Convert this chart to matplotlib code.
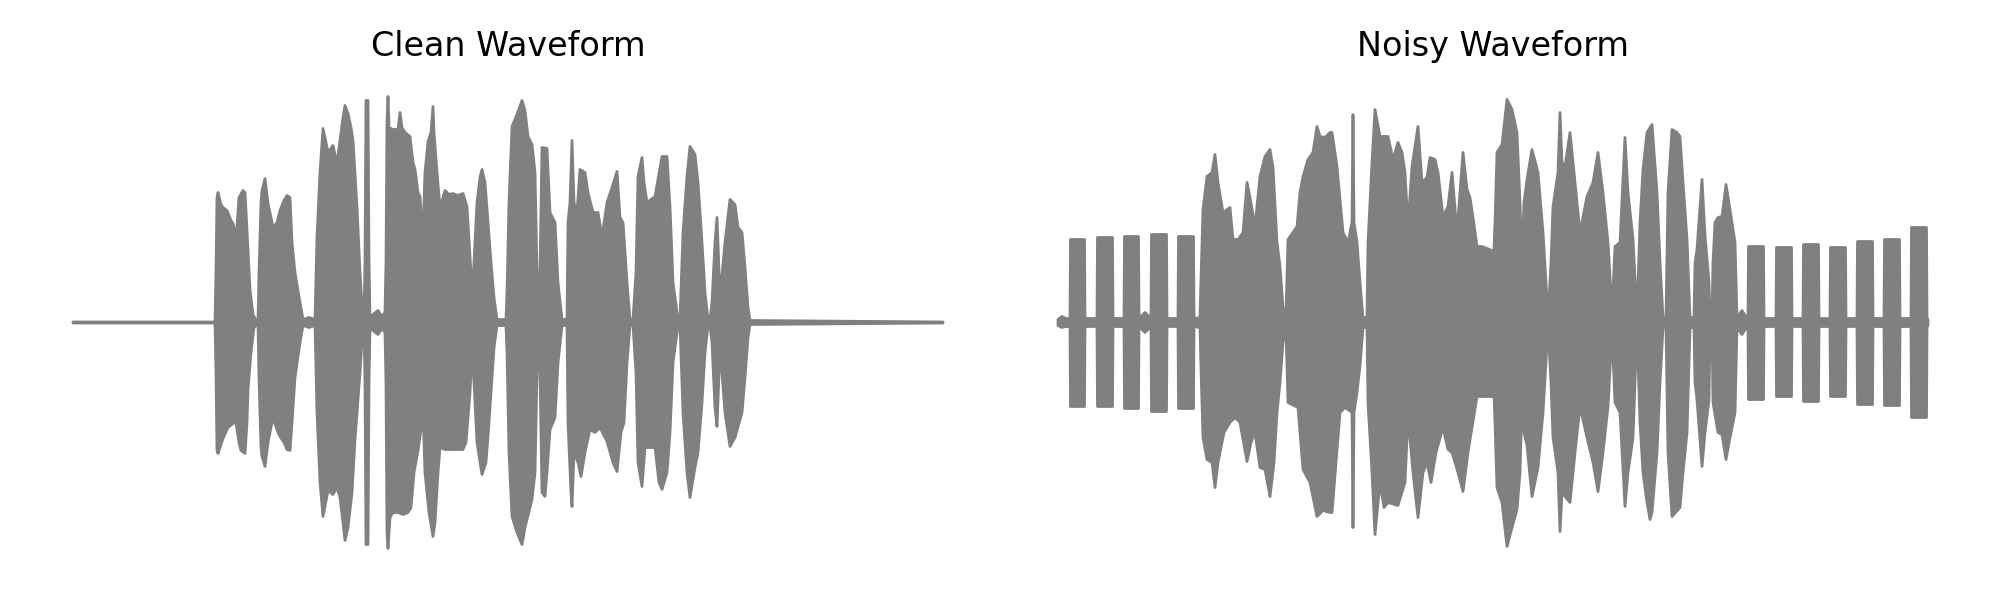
import numpy as np
import matplotlib.pyplot as plt

# peak envelope (frame index, level)
clean_top = [
    (0, 0.5), (142, 0.5), (143, 50), (144, 125), (145, 130), (148, 118), (150, 115), (154, 112), (158, 102),
    (160, 99), (162, 92), (164, 95), (166, 125), (170, 132), (172, 130), (174, 92), (177, 33), (180, 8), (183, 2),
    (185, 2), (186, 50), (188, 120), (189, 132), (192, 144), (195, 119), (198, 105), (200, 95), (204, 100),
    (207, 112), (211, 122), (214, 127), (217, 125), (219, 80), (222, 50), (227, 20), (230, 3),
    (236, 5), (242, 3), (244, 86), (247, 150), (250, 194), (253, 180), (255, 170), (260, 177), (264, 159),
    (267, 182), (270, 205), (272, 217), (275, 209), (278, 195), (280, 182), (284, 115), (287, 50), (290, 3),
    (291, 3), (292, 60), (293, 222), (295, 222), (296, 60), (297, 5), (300, 8), (305, 12), (309, 6), (312, 10),
    (313, 60), (314, 200), (315, 226), (316, 195), (320, 193), (325, 193), (327, 210), (329, 195), (332, 190),
    (337, 186), (340, 160), (342, 153), (345, 130), (347, 126), (349, 95), (350, 90), (352, 150), (355, 181),
    (358, 190), (360, 216), (361, 190), (364, 150), (367, 115), (370, 125), (372, 132), (376, 128), (380, 129),
    (385, 127), (390, 129), (394, 116), (397, 66), (399, 30), (401, 60), (404, 120), (407, 145), (409, 153),
    (412, 140), (415, 100), (418, 60), (421, 25), (424, 3),
    (433, 3), (434, 30), (436, 120), (439, 196), (444, 208), (449, 222), (452, 212), (455, 186), (459, 178),
    (462, 150), (464, 50), (467, 50), (469, 175), (474, 174), (477, 110), (482, 100), (485, 40), (489, 3),
    (494, 3), (495, 100), (497, 120), (499, 182), (501, 120), (504, 110), (507, 153), (512, 150), (515, 130),
    (520, 110), (525, 110), (529, 86), (534, 120), (539, 135), (544, 151), (547, 105), (550, 100), (554, 40), (557, 3),
    (560, 3), (563, 50), (565, 146), (569, 165), (571, 140), (574, 120), (582, 126), (589, 166), (594, 166),
    (597, 115), (600, 40), (605, 3),
    (607, 3), (610, 90), (614, 146), (617, 176), (622, 168), (625, 140), (629, 80), (632, 30), (635, 3),
    (637, 3), (639, 20), (642, 80), (644, 105), (647, 25), (652, 80), (657, 123), (662, 118), (665, 95),
    (669, 90), (672, 55), (675, 15), (677, 2), (870, 0.5)]

clean_bot = [
    (0, 0.5), (142, 0.5), (143, 50), (144, 128), (145, 131), (150, 116), (155, 105), (160, 101), (163, 100),
    (166, 120), (168, 128), (172, 131), (174, 100), (175, 67), (178, 30), (181, 5), (184, 2),
    (185, 2), (186, 55), (188, 125), (189, 134), (192, 144), (195, 120), (200, 95), (205, 110), (207, 114),
    (211, 120), (214, 127), (217, 128), (219, 100), (222, 55), (227, 20), (230, 3),
    (236, 5), (242, 3), (244, 90), (247, 160), (250, 194), (255, 168), (260, 172), (264, 165), (267, 175),
    (270, 200), (272, 218), (275, 205), (279, 170), (282, 117), (287, 50), (290, 3),
    (291, 3), (292, 60), (293, 222), (295, 222), (296, 60), (297, 5), (300, 8), (305, 12), (309, 6), (312, 10),
    (313, 60), (314, 210), (315, 226), (317, 195), (320, 190), (325, 190), (330, 192), (335, 190), (338, 185),
    (341, 150), (345, 128), (349, 100), (350, 90), (352, 150), (356, 190), (360, 214), (362, 200), (365, 150),
    (367, 125), (372, 127), (380, 127), (390, 127), (393, 120), (397, 70), (399, 30), (401, 60), (404, 120),
    (409, 152), (413, 140), (416, 100), (419, 55), (421, 25), (424, 3),
    (433, 3), (434, 30), (436, 130), (439, 194), (444, 210), (449, 222), (452, 205), (459, 177), (462, 150),
    (464, 50), (467, 50), (469, 170), (472, 174), (474, 150), (477, 107), (482, 95), (485, 40), (489, 3),
    (494, 3), (495, 100), (498, 170), (499, 184), (501, 130), (505, 140), (508, 154), (512, 130), (517, 107),
    (522, 110), (527, 105), (534, 119), (540, 140), (544, 149), (548, 110), (551, 100), (554, 40), (557, 3),
    (560, 3), (563, 50), (565, 140), (569, 164), (572, 125), (582, 125), (586, 160), (589, 167), (594, 150),
    (597, 110), (600, 40), (605, 3),
    (607, 3), (610, 90), (614, 150), (617, 175), (622, 145), (625, 130), (629, 80), (632, 30), (635, 3),
    (637, 3), (639, 20), (642, 85), (644, 104), (647, 25), (652, 90), (657, 124), (662, 115), (669, 90),
    (672, 55), (675, 15), (677, 2), (870, 0.5)]

noisy_top = [
    (0, 3), (4, 6), (8, 4), (87, 10),
    (142, 5), (143, 43), (145, 113), (149, 146), (154, 150), (157, 168), (160, 140), (165, 110), (172, 115),
    (175, 83), (180, 83), (185, 90), (189, 140), (192, 125), (197, 96), (202, 146), (207, 166), (212, 173),
    (215, 155), (219, 80), (222, 56), (225, 15), (228, 8),
    (230, 83), (235, 90), (239, 96), (242, 130), (245, 146), (250, 163), (255, 170), (259, 196), (262, 186),
    (267, 185), (272, 190), (274, 190), (279, 156), (285, 90), (290, 80), (294, 100), (295, 208), (296, 100),
    (299, 80), (302, 40), (305, 5),
    (309, 5), (310, 80), (314, 160), (317, 213), (322, 186), (325, 186), (330, 186), (335, 163), (340, 180),
    (344, 170), (347, 150), (350, 96), (354, 156), (360, 196), (364, 140), (369, 145), (372, 165), (377, 163),
    (380, 150), (385, 106), (390, 116), (394, 150), (399, 90), (405, 170), (409, 133), (412, 125), (415, 105),
    (419, 76), (424, 76), (429, 74), (434, 72), (435, 45),
    (437, 100), (439, 170), (444, 178), (449, 223), (454, 213), (459, 190), (462, 120), (464, 60), (466, 120),
    (469, 143), (474, 173), (480, 150), (485, 90), (490, 5),
    (493, 60), (495, 116), (500, 150), (502, 210), (504, 160), (507, 156), (512, 190), (517, 140), (522, 90),
    (529, 126), (535, 140), (540, 170), (545, 130), (550, 80), (554, 10),
    (557, 76), (562, 80), (567, 185), (570, 130), (575, 83), (579, 5),
    (582, 100), (585, 153), (589, 190), (594, 198), (599, 130), (602, 60), (605, 5),
    (608, 5), (610, 130), (614, 193), (619, 190), (622, 186), (625, 140), (629, 83), (632, 5),
    (636, 5), (637, 60), (639, 73), (644, 143), (647, 87), (651, 40), (652, 5),
    (654, 5), (655, 60), (657, 100), (660, 105), (664, 106), (668, 138), (672, 113), (677, 80), (679, 5),
    (684, 12), (689, 4), (870, 3)]

noisy_bot = [
    (0, 3), (4, 5), (8, 4), (87, 10),
    (142, 5), (143, 45), (145, 115), (149, 137), (154, 140), (157, 165), (160, 140), (166, 110), (172, 100),
    (177, 95), (182, 100), (189, 139), (193, 120), (197, 110), (202, 145), (207, 147), (212, 174), (216, 140),
    (219, 90), (222, 60), (225, 20), (228, 8),
    (230, 80), (240, 85), (245, 147), (252, 160), (259, 194), (265, 188), (272, 190), (274, 190), (278, 140),
    (282, 90), (287, 85), (294, 90), (295, 205), (296, 90), (299, 70), (302, 43), (305, 5),
    (309, 5), (310, 80), (314, 150), (317, 212), (322, 160), (326, 185), (330, 180), (340, 183), (347, 160),
    (350, 94), (355, 150), (360, 195), (365, 150), (369, 140), (373, 160), (378, 130), (385, 105), (390, 127),
    (394, 130), (400, 150), (405, 169), (410, 130), (419, 74), (429, 74), (434, 74), (435, 45),
    (437, 100), (439, 165), (444, 180), (449, 224), (454, 205), (459, 187), (462, 150), (464, 80), (466, 110),
    (469, 123), (474, 174), (480, 145), (485, 90), (490, 5),
    (493, 60), (495, 115), (500, 150), (502, 209), (504, 170), (512, 180), (517, 130), (522, 84), (529, 115),
    (535, 140), (540, 169), (545, 130), (550, 84), (554, 10),
    (557, 80), (562, 90), (567, 184), (570, 150), (575, 115), (579, 5),
    (582, 100), (585, 150), (589, 180), (592, 197), (594, 190), (599, 130), (602, 60), (605, 5),
    (608, 5), (610, 130), (614, 194), (622, 185), (625, 150), (629, 110), (632, 5),
    (636, 5), (637, 60), (639, 77), (644, 144), (647, 110), (651, 77), (652, 5),
    (654, 5), (655, 80), (660, 110), (664, 112), (668, 137), (672, 115), (677, 90), (679, 5),
    (684, 12), (689, 4), (870, 3)]

# steady noise bursts: (start frame, end frame, peak up, peak down)
noisy_blocks = [
    (12, 27, 83, 84), (39, 55, 85, 84), (66, 81, 86, 86), (93, 109, 88, 89), (120, 136, 86, 86),
    (690, 706, 76, 77), (718, 734, 75, 74), (745, 761, 78, 79), (772, 788, 75, 74),
    (799, 815, 81, 82), (826, 842, 83, 83), (853, 869, 95, 95)]

titles = ['Clean Waveform', 'Noisy Waveform']
n_frames = 870
ylim = 259.5


def envelope(top, bot, blocks=()):
    top = list(top)
    bot = list(bot)
    for s, e, t, b in blocks:
        top += [(s, 4), (s + 0.5, t), (e - 0.5, t), (e, 4)]
        bot += [(s, 4), (s + 0.5, b), (e - 0.5, b), (e, 4)]
    top.sort()
    bot.sort()
    tx, ty = zip(*top)
    bx, by = zip(*bot)
    x = np.r_[tx, bx[::-1]]
    y = np.r_[ty, -np.array(by[::-1])]
    return x, y


fig = plt.figure(figsize=(20, 6), dpi=100)
ax1 = fig.add_axes([73 / 2000, 18 / 600, 870 / 2000, 519 / 600])
ax2 = fig.add_axes([1058 / 2000, 18 / 600, 870 / 2000, 519 / 600])

data = [envelope(clean_top, clean_bot), envelope(noisy_top, noisy_bot, noisy_blocks)]

for ax, (x, y), ttl in zip([ax1, ax2], data, titles):
    ax.fill(x, y, facecolor='gray', edgecolor='gray', linewidth=2,
            joinstyle='round', clip_on=False)
    ax.set_xlim(0, n_frames)
    ax.set_ylim(-ylim, ylim)
    ax.set_title(ttl, fontsize=24, pad=3)
    ax.axis('off')

fig.savefig('out.png', dpi=100)
